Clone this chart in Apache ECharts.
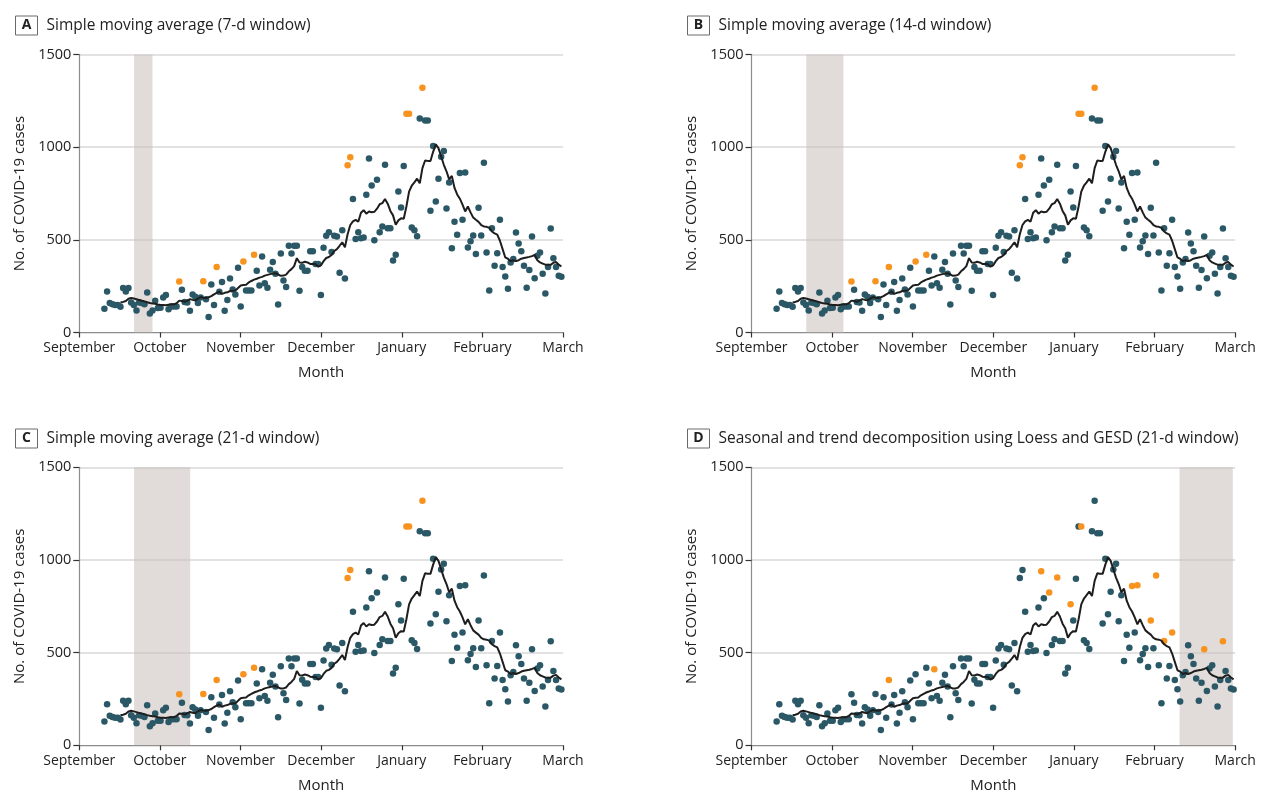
<!DOCTYPE html>
<html><head><meta charset="utf-8">
<script src="https://cdn.jsdelivr.net/npm/echarts@6/dist/echarts.min.js"></script>
<style>html,body{margin:0;padding:0;background:#fff}#c{width:1262px;height:798px}</style>
</head><body><div id="c"></div>
<script>
// ---- data ----
const monthLabels = ['September','October','November','December','January','February','March'];
const seasonDays = 181;          // Sep 1 -> Mar 1
const firstDay = 9.4;            // first observation, days after Sep 1

const cases = [
  128,221,159,153,149,149,139,240,221,240,
  162,148,119,162,159,153,216,103,119,171,
  132,133,189,202,126,140,140,140,275,230,
  164,162,117,205,193,159,189,277,180,83,
  259,149,353,220,272,117,175,291,232,205,
  349,140,383,227,227,227,419,333,254,410,
  266,241,338,380,317,151,426,281,245,468,
  426,468,468,225,354,333,333,439,439,369,
  369,202,457,522,541,434,522,518,322,552,
  291,903,946,720,505,541,509,512,743,939,
  793,498,824,541,572,905,563,563,388,419,
  761,674,899,1180,1180,567,552,520,1155,1320,
  1144,1144,657,1006,707,829,948,979,669,809,
  455,597,527,860,608,863,459,493,523,423,
  673,523,916,432,227,563,360,428,608,353,
  302,236,378,396,540,480,439,360,241,337,
  518,293,414,432,317,210,353,561,401,353,
  306,301
];

const trend = [
  null,null,null,null,null,null,162,165,170,182,
  186,183,179,175,171,168,163,159,157,155,
  151,149,148,147,150,152,152,158,172,170,
  166,172,180,176,173,183,191,188,186,190,
  196,206,214,220,208,214,217,224,225,226,
  240,254,256,258,270,278,285,290,296,300,
  307,311,315,318,320,313,306,307,312,330,
  342,358,401,378,376,382,378,370,369,369,
  355,362,385,402,407,418,440,450,468,487,
  460,530,580,600,608,598,646,660,641,653,
  649,651,668,692,698,720,695,656,632,581,
  605,616,614,680,760,792,810,830,805,887,
  928,926,925,975,1015,995,950,905,870,826,
  845,780,745,722,690,653,680,648,620,608,
  597,580,572,570,565,545,535,528,495,450,
  405,398,385,390,385,390,398,402,405,408,
  412,418,390,378,372,366,365,365,376,380,
  366,356
];

const panelLetters = ['A','B','C','D'];
const panelTitles = [
  'Simple moving average (7-d window)',
  'Simple moving average (14-d window)',
  'Simple moving average (21-d window)',
  'Seasonal and trend decomposition using Loess and GESD (21-d window)'
];
const outliersSMA = [28,37,42,52,56,91,92,113,114,119];
const outliersSTL = [42,59,99,102,105,110,114,133,135,140,142,145,148,160,167];
const panelOutliers = [outliersSMA, outliersSMA, outliersSMA, outliersSTL];
const shadeStart = [20.5, 20.5, 20.5, 160.2];   // days after Sep 1
const shadeEnd   = [27.4, 34.4, 41.5, 180.1];

// ---- chart ----
const FONT = '"Open Sans", "Noto Sans", sans-serif';
const TEAL = '#2b5866', ORANGE = '#f7931e';
const toX = d => d * (monthLabels.length - 1) / seasonDays;

const pos = [
  {left: 79.3, top: 54.5, title: [10.5, 10.5]},
  {left: 751.5, top: 54.5, title: [682.5, 10.5]},
  {left: 79.3, top: 467.3, title: [10.5, 423.5]},
  {left: 751.5, top: 467.3, title: [682.5, 423.5]}
];
const W = 483.7, H = 278;

const option = {
  animation: false,
  backgroundColor: '#fff',
  textStyle: {fontFamily: FONT},
  title: [], grid: [], xAxis: [], yAxis: [], series: []
};

pos.forEach((p, i) => {
  option.title.push({
    left: p.title[0], top: p.title[1],
    text: '{box|' + panelLetters[i] + '}{gap|}{t|' + panelTitles[i] + '}',
    textStyle: {
      fontWeight: 'normal',
      rich: {
        box: {fontFamily: FONT, fontWeight: 'bold', fontSize: 14, color: '#222',
              borderColor: '#6a6a6a', borderWidth: 1, width: 22, height: 19,
              align: 'center', verticalAlign: 'middle', lineHeight: 19},
        gap: {width: 9},
        t: {fontFamily: FONT, fontWeight: 'normal', fontSize: 15.5, color: '#222', lineHeight: 20}
      }
    }
  });
  option.grid.push({left: p.left, top: p.top, width: W, height: H, outerBoundsMode: 'none', containLabel: false});
  option.xAxis.push({
    type: 'value', gridIndex: i, min: 0, max: monthLabels.length - 1, interval: 1,
    name: 'Month', nameLocation: 'middle', nameGap: 33,
    nameTextStyle: {fontFamily: FONT, fontSize: 15, color: '#222'},
    axisLine: {show: true, onZero: false, lineStyle: {color: '#8c8c8c', width: 1.2}},
    axisTick: {show: true, length: 5, lineStyle: {color: '#333', width: 1.2}},
    axisLabel: {margin: 9, fontFamily: FONT, fontSize: 14, color: '#222',
                formatter: v => monthLabels[Math.round(v)] || ''},
    splitLine: {show: false}
  });
  option.yAxis.push({
    type: 'value', gridIndex: i, min: 0, max: 1500, interval: 500,
    name: 'No. of COVID-19 cases', nameLocation: 'middle', nameGap: 52, nameRotate: 90,
    nameTextStyle: {fontFamily: FONT, fontSize: 15, color: '#222'},
    axisLine: {show: true, lineStyle: {color: '#8c8c8c', width: 1.2}},
    axisTick: {show: true, length: 6, lineStyle: {color: '#333', width: 1.2}},
    axisLabel: {margin: 8, fontFamily: FONT, fontSize: 14.5, color: '#222',
                formatter: v => String(v)},
    splitLine: {show: true, lineStyle: {color: '#d9d9d9', width: 1.6}}
  });

  const outSet = new Set(panelOutliers[i]);
  const normal = [], outl = [];
  cases.forEach((v, k) => {
    const pt = [toX(firstDay + k), v];
    (outSet.has(k) ? outl : normal).push(pt);
  });

  option.series.push({
    type: 'line', xAxisIndex: i, yAxisIndex: i, data: [], silent: true, z: 1,
    markArea: {silent: true, itemStyle: {color: 'rgba(200,190,186,0.55)'},
      data: [[{xAxis: toX(shadeStart[i])}, {xAxis: toX(shadeEnd[i])}]]}
  });
  option.series.push({
    type: 'scatter', xAxisIndex: i, yAxisIndex: i, data: normal, symbolSize: 6.5, z: 3,
    itemStyle: {color: TEAL, opacity: 1}
  });
  option.series.push({
    type: 'scatter', xAxisIndex: i, yAxisIndex: i, data: outl, symbolSize: 6.5, z: 4,
    itemStyle: {color: ORANGE, opacity: 1}
  });
  option.series.push({
    type: 'line', xAxisIndex: i, yAxisIndex: i, z: 5,
    data: trend.map((v, k) => [toX(firstDay + k), v]),
    showSymbol: false, connectNulls: false,
    lineStyle: {color: '#1e1e1e', width: 2}
  });
});

const chart = echarts.init(document.getElementById('c'), null, {renderer: 'canvas'});
chart.setOption(option);
</script>
</body></html>
